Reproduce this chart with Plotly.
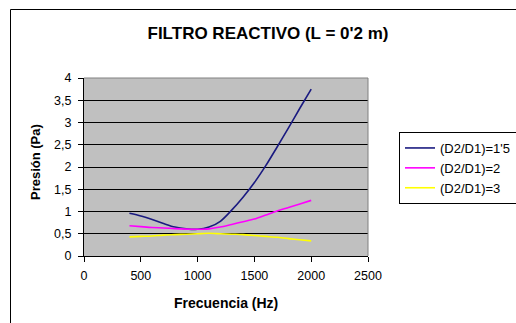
import plotly.graph_objects as go

freq = [400, 500, 600, 700, 800, 900, 1000, 1100, 1200, 1300, 1400, 1500, 1600, 1700, 1800, 1900, 2000]
s15 = [0.96, 0.90, 0.82, 0.73, 0.65, 0.61, 0.60, 0.65, 0.78, 1.03, 1.32, 1.65, 2.03, 2.45, 2.88, 3.32, 3.75]
s2 = [0.68, 0.66, 0.64, 0.63, 0.615, 0.605, 0.60, 0.61, 0.65, 0.71, 0.77, 0.83, 0.92, 1.01, 1.09, 1.17, 1.25]
s3 = [0.43, 0.44, 0.45, 0.47, 0.48, 0.49, 0.50, 0.51, 0.50, 0.49, 0.48, 0.46, 0.44, 0.42, 0.39, 0.365, 0.34]
names = ["(D2/D1)=1'5", "(D2/D1)=2", "(D2/D1)=3"]
colors = ["#1a1a80", "#ff00ff", "#ffff00"]
yticks = [0, 0.5, 1, 1.5, 2, 2.5, 3, 3.5, 4]
ytext = ["0", "0,5", "1", "1,5", "2", "2,5", "3", "3,5", "4"]
xticks = [0, 500, 1000, 1500, 2000, 2500]

W, H = 516, 323
L, R, T, B = 84, 368, 78, 256


def px(x):
    return (x - L) / (R - L)


def py(y):
    return (B - y) / (B - T)


fig = go.Figure()
for ys, n, c in zip([s15, s2, s3], names, colors):
    fig.add_trace(go.Scatter(x=freq, y=ys, name=n, mode="lines",
                             line=dict(color=c, width=1.6, shape="spline", smoothing=0.8)))

font = "Liberation Sans, Arial, sans-serif"
fig.update_layout(
    width=W, height=H,
    margin=dict(l=L, r=W - R, t=T, b=H - B, pad=0),
    paper_bgcolor="white", plot_bgcolor="#c0c0c0",
    font=dict(family=font, size=12.5, color="black"),
    showlegend=True,
    legend=dict(x=399 / W, y=1 - 132 / H, xref="container", yref="container",
                xanchor="left", yanchor="top",
                bordercolor="black", borderwidth=1, bgcolor="white",
                font=dict(size=13), itemwidth=30, tracegroupgap=0),
    title=dict(text="<b>FILTRO REACTIVO (L = 0'2 m)</b>", x=268 / W, xref="container",
               xanchor="center", y=1 - 33 / H, yref="container", yanchor="middle",
               font=dict(size=17, family=font)),
    xaxis=dict(range=[0, 2500], tickvals=xticks,
               showgrid=False, zeroline=False, showline=True, linecolor="black", linewidth=1,
               ticks="outside", ticklen=5, tickcolor="black", ticklabelstandoff=3,
               fixedrange=True),
    yaxis=dict(range=[0, 4], tickvals=yticks, ticktext=ytext,
               showgrid=True, gridcolor="black", gridwidth=1, zeroline=False,
               showline=True, linecolor="black", linewidth=1,
               ticks="outside", ticklen=5, tickcolor="black", ticklabelstandoff=4,
               fixedrange=True),
    annotations=[
        dict(text="<b>Presión (Pa)</b>", x=px(35), y=py(162), xref="paper", yref="paper",
             textangle=-90, showarrow=False, xanchor="center", yanchor="middle",
             font=dict(size=13)),
        dict(text="<b>Frecuencia (Hz)</b>", x=px(226), y=py(303), xref="paper", yref="paper",
             showarrow=False, xanchor="center", yanchor="middle", font=dict(size=14)),
    ],
    shapes=[
        dict(type="path", xref="paper", yref="paper", layer="above",
             path="M 0,1 L 1,1 L 1,0", line=dict(color="#808080", width=1)),
        dict(type="path", xref="paper", yref="paper", layer="above",
             path=f"M {px(10.5)},{py(330)} L {px(10.5)},{py(9.5)} L {px(530)},{py(9.5)}",
             line=dict(color="black", width=1)),
    ],
)

fig.write_html("out.html")
